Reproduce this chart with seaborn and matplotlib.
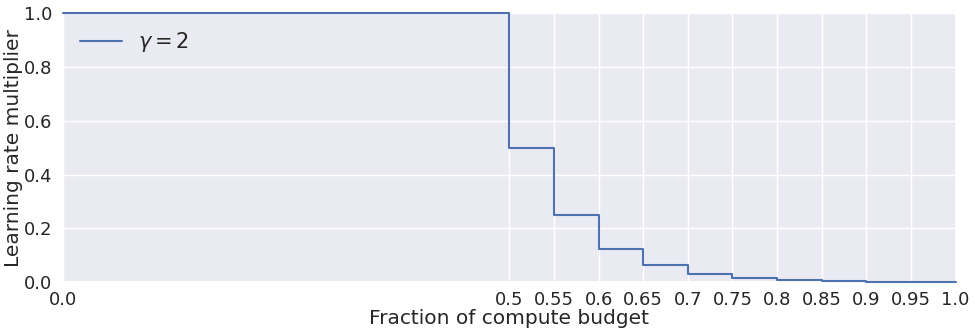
import matplotlib
matplotlib.use("Agg")
import matplotlib.pyplot as plt
import seaborn as sns
import pandas as pd

# step start positions (fraction of compute budget) and multiplier values
fractions = [0.0, 0.5, 0.55, 0.6, 0.65, 0.7, 0.75, 0.8, 0.85, 0.9, 0.95, 1.0]
multipliers = [1.0, 0.5, 0.25, 0.125, 0.0625, 0.03125, 0.015625, 0.0078125,
               0.00390625, 0.001953125, 0.0009765625, 0.0009765625]
tick_positions = [0.0, 0.5, 0.55, 0.6, 0.65, 0.7, 0.75, 0.8, 0.85, 0.9, 0.95, 1.0]
tick_labels = ["0.0", "0.5", "0.55", "0.6", "0.65", "0.7", "0.75", "0.8", "0.85", "0.9", "0.95", "1.0"]

df = pd.DataFrame({"x": fractions, "y": multipliers})

sns.set_theme(style="darkgrid")
fig, ax = plt.subplots(figsize=(9.75, 3.34), dpi=100)
fig.subplots_adjust(left=0.065, right=0.98, top=0.96, bottom=0.155)

sns.lineplot(data=df, x="x", y="y", ax=ax, drawstyle="steps-post",
             color="#4c72b0", linewidth=1.5, label=r"$\gamma=2$", clip_on=False,
             zorder=5)

ax.set_xlim(0, 1)
ax.set_ylim(0, 1)
ax.set_xticks(tick_positions)
ax.set_xticklabels(tick_labels)
ax.set_yticks([0, 0.2, 0.4, 0.6, 0.8, 1.0])
ax.tick_params(axis="x", labelsize=13, pad=0)
ax.tick_params(axis="y", labelsize=13, pad=2)
ax.set_xlabel("Fraction of compute budget", fontsize=14.5, labelpad=0.5)
ax.set_ylabel("Learning rate multiplier", fontsize=14.5, labelpad=0.5)
leg = ax.legend(loc="upper left", fontsize=15, frameon=False,
                borderaxespad=0.4, handlelength=2.0)

fig.savefig("out.png", dpi=100)
